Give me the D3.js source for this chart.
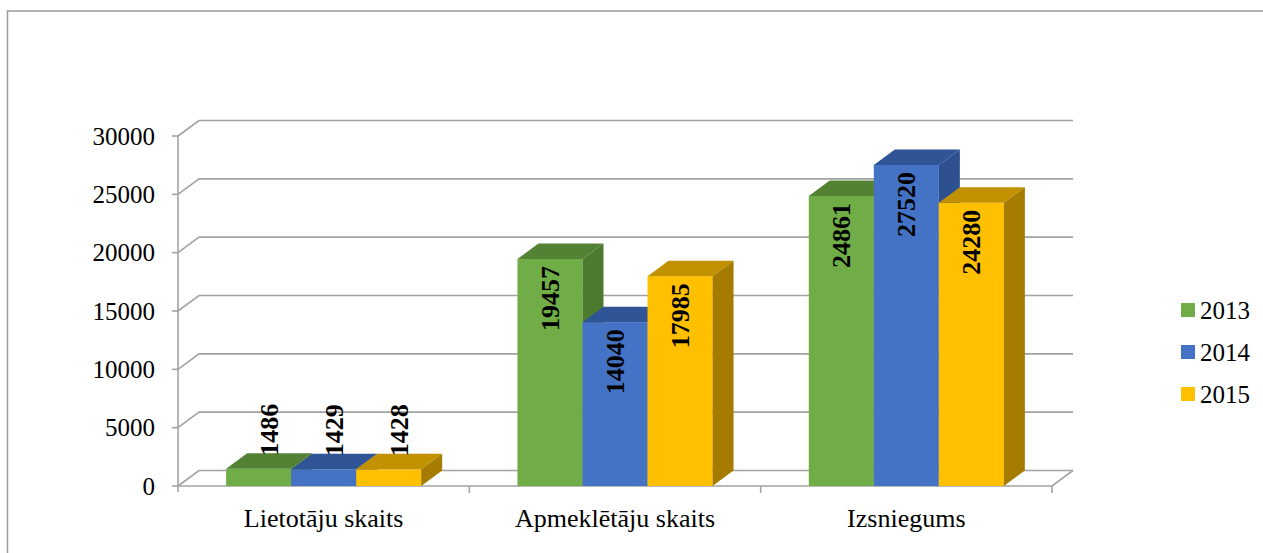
<!DOCTYPE html>
<html>
<head>
<meta charset="utf-8">
<script src="https://cdn.jsdelivr.net/npm/d3@7"></script>
<style>
  body { margin: 0; background: #fff; }
  text { font-family: "Liberation Serif", "Times New Roman", "DejaVu Serif", serif; }
</style>
</head>
<body>
<svg id="grafiks"></svg>
<script>
const platums = 1263;
const augstums = 553;

// dati
const kategorijas = ["Lietotāju skaits", "Apmeklētāju skaits", "Izsniegums"];
const gadi = ["2013", "2014", "2015"];
const vertibas2013 = [1486, 19457, 24861];
const vertibas2014 = [1429, 14040, 27520];
const vertibas2015 = [1428, 17985, 24280];
const asuTikeri = [0, 5000, 10000, 15000, 20000, 25000, 30000];

const serijas = [vertibas2013, vertibas2014, vertibas2015];
const krasas = [
  { priekša: "#70ad47", augša: "#548235", sāns: "#4c7a2f" },
  { priekša: "#4472c4", augša: "#2f5597", sāns: "#2d5091" },
  { priekša: "#ffc000", augša: "#c29100", sāns: "#a67c00" }
];

// 3D dziļums
const dx = 21, dy = 15.5;
const kreisa = 178, laba = 1052, apaksa = 486, augsa = 136;

const svg = d3.select("#grafiks")
  .attr("width", platums)
  .attr("height", augstums);

// rāmis
svg.append("rect")
  .attr("x", 7.5).attr("y", 11)
  .attr("width", 1400).attr("height", 700)
  .attr("fill", "none")
  .attr("stroke", "#9a9a9a")
  .attr("stroke-width", 1.5);

const y = d3.scaleLinear().domain([0, 30000]).range([apaksa, augsa]);
const x = d3.scaleBand().domain(kategorijas).range([kreisa, laba]);
const xs = d3.scaleBand().domain(gadi).range([0, x.bandwidth()]).paddingOuter(0.74);

const rezgis = svg.append("g")
  .attr("fill", "none")
  .attr("stroke", "#a3a3a3")
  .attr("stroke-width", 1.6);

// režģa līnijas uz aizmugurējās sienas + sānu sienas diagonāles
asuTikeri.forEach(t => {
  rezgis.append("path")
    .attr("d", `M${kreisa},${y(t)} L${kreisa + dx},${y(t) - dy} L${laba + dx},${y(t) - dy}`);
  rezgis.append("line")
    .attr("x1", kreisa - 6).attr("x2", kreisa)
    .attr("y1", y(t)).attr("y2", y(t));
});

// vertikālā ass
rezgis.append("line")
  .attr("x1", kreisa).attr("x2", kreisa)
  .attr("y1", augsa).attr("y2", apaksa + 6);

// grīdas priekšējā mala
rezgis.append("path")
  .attr("d", `M${kreisa},${apaksa} L${laba},${apaksa} L${laba + dx},${apaksa - dy}`);

// kategoriju atdalītāji
kategorijas.forEach(k => {
  const xv = x(k) + x.bandwidth();
  rezgis.append("line")
    .attr("x1", xv).attr("x2", xv)
    .attr("y1", apaksa).attr("y2", apaksa + 7);
});

// y ass uzraksti
svg.append("g")
  .selectAll("text")
  .data(asuTikeri)
  .join("text")
  .attr("x", 155)
  .attr("y", d => y(d))
  .attr("dy", "0.34em")
  .attr("text-anchor", "end")
  .attr("font-size", 25)
  .attr("fill", "#000")
  .text(d => d);

// kategoriju uzraksti
svg.append("g")
  .selectAll("text")
  .data(kategorijas)
  .join("text")
  .attr("x", d => x(d) + x.bandwidth() / 2)
  .attr("y", 527)
  .attr("text-anchor", "middle")
  .attr("font-size", 26)
  .text(d => d);

// stabiņi
const fonts = 26;
kategorijas.forEach((k, ki) => {
  serijas.forEach((s, si) => {
    const v = s[ki];
    const x0 = x(k) + xs(gadi[si]);
    const x1 = x0 + xs.bandwidth();
    const yt = y(v);
    const yb = y(0);
    const c = krasas[si];
    const g = svg.append("g");

    g.append("rect")
      .attr("x", x0).attr("y", yt)
      .attr("width", x1 - x0).attr("height", yb - yt)
      .attr("fill", c.priekša);
    g.append("path")
      .attr("d", `M${x0},${yt} L${x1},${yt} L${x1 + dx},${yt - dy} L${x0 + dx},${yt - dy}Z`)
      .attr("fill", c.augša);
    g.append("path")
      .attr("d", `M${x1},${yt} L${x1 + dx},${yt - dy} L${x1 + dx},${yb - dy} L${x1},${yb}Z`)
      .attr("fill", c.sāns);
  });
});

// vērtību uzraksti (pēc stabiņiem, lai ir virspusē)
kategorijas.forEach((k, ki) => {
  serijas.forEach((s, si) => {
    const v = s[ki];
    const x0 = x(k) + xs(gadi[si]);
    const cx = x0 + xs.bandwidth() / 2;
    const yt = y(v);
    const garums = String(v).length * fonts * 0.5;
    const ieksa = (y(0) - yt) > garums + 14;

    const t = svg.append("text")
      .attr("font-size", fonts)
      .attr("font-weight", "bold")
      .attr("dy", "0.35em")
      .text(v);

    if (ieksa) {
      t.attr("text-anchor", "end")
        .attr("transform", `translate(${cx},${yt + 7}) rotate(-90)`);
    } else {
      t.attr("text-anchor", "start")
        .attr("transform", `translate(${cx + dx / 2},${yt - 13}) rotate(-90)`);
    }
  });
});

// leģenda
const leg = svg.append("g");
gadi.forEach((gads, i) => {
  const yc = 310 + i * 42;
  leg.append("rect")
    .attr("x", 1181).attr("y", yc - 7)
    .attr("width", 14).attr("height", 14)
    .attr("fill", krasas[i].priekša);
  leg.append("text")
    .attr("x", 1200)
    .attr("y", yc)
    .attr("dy", "0.35em")
    .attr("font-size", 25)
    .text(gads);
});
</script>
</body>
</html>
